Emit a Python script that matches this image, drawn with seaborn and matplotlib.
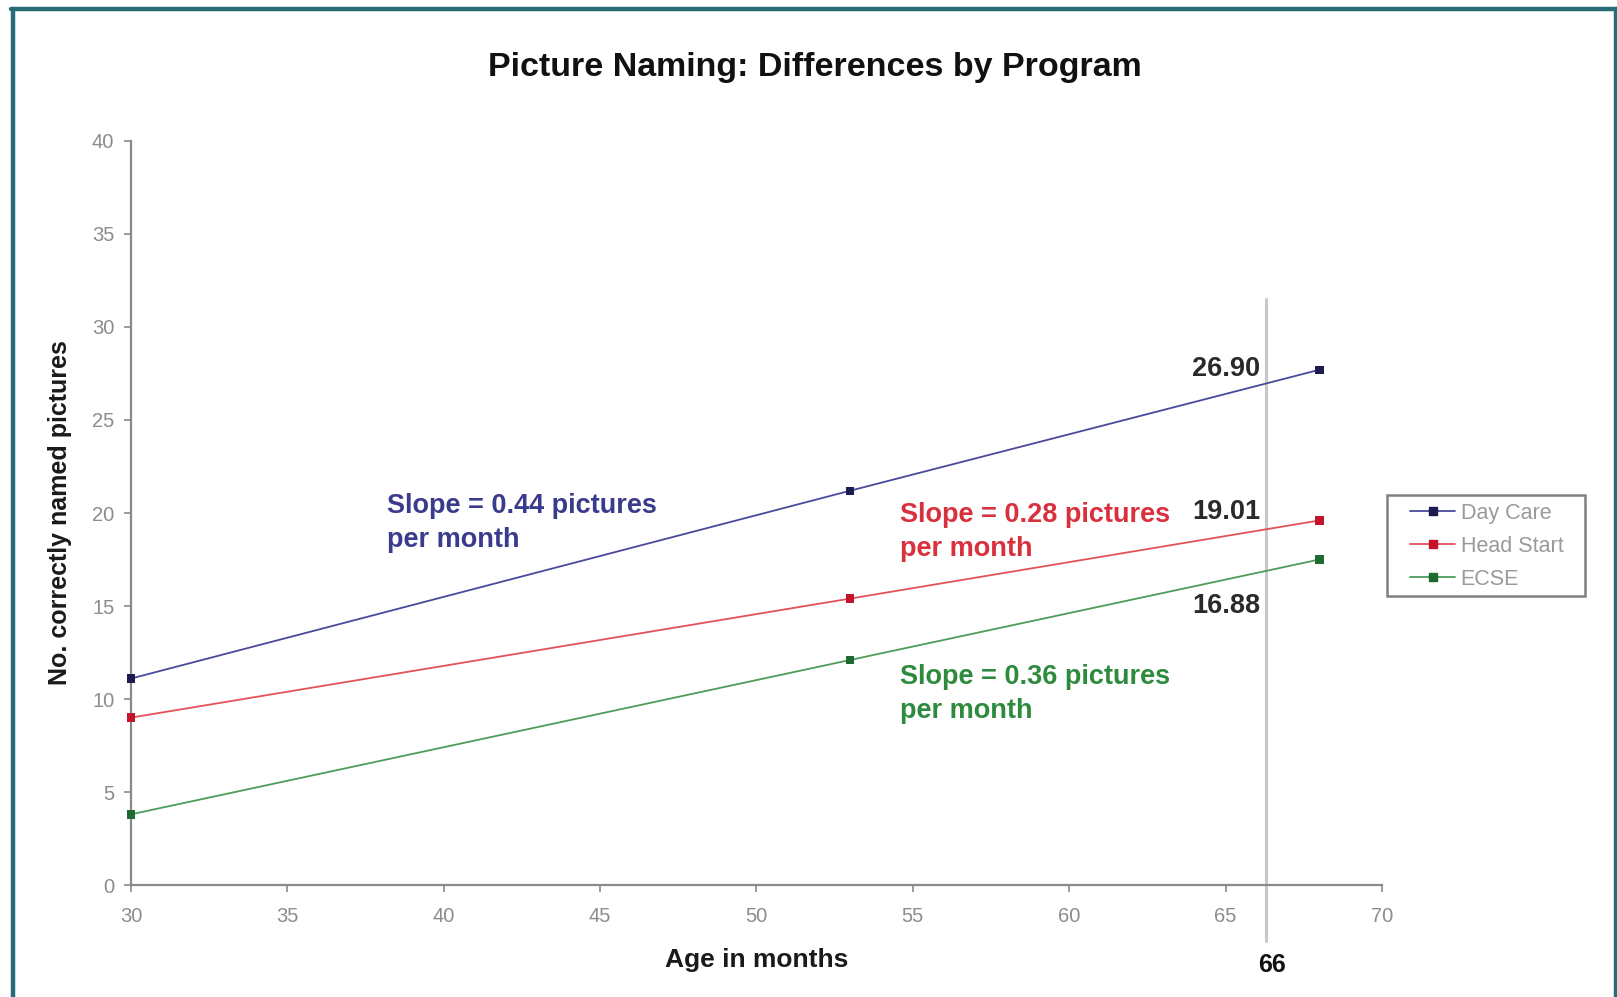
import matplotlib
matplotlib.use("Agg")
import matplotlib.pyplot as plt
from matplotlib.lines import Line2D
from matplotlib.patches import Rectangle
import seaborn as sns
import pandas as pd

# Data
ages = [30, 53, 68]
day_care = [11.1, 21.2, 27.7]
head_start = [9.0, 15.4, 19.6]
ecse = [3.8, 12.1, 17.5]
programs = ['Day Care', 'Head Start', 'ECSE']

cutoff_age = 66.3
cutoff_label = '66'
value_labels = ['26.90', '19.01', '16.88']
value_label_y = [27.75, 20.05, 15.0]
slope_texts = ['Slope = 0.44 pictures\nper month',
               'Slope = 0.28 pictures\nper month',
               'Slope = 0.36 pictures\nper month']

line_colors = ['#4a4a9c', '#e4505c', '#4c9c5c']
marker_colors = ['#1c1c50', '#c4142c', '#1e6a30']
text_colors = ['#3b3b8e', '#d8303c', '#2e8b3e']

rows = []
for name, vals in zip(programs, [day_care, head_start, ecse]):
    for a, v in zip(ages, vals):
        rows.append({'Age': a, 'Score': v, 'Program': name})
df = pd.DataFrame(rows)

sns.set_style('white')
plt.rcParams['font.family'] = ['Liberation Sans', 'DejaVu Sans']

fig = plt.figure(figsize=(16.17, 9.97), dpi=100)
ax = fig.add_axes([0.081, 0.1123, 0.7736, 0.7463])

# cutoff line at 66 months
ax.plot([cutoff_age, cutoff_age], [-3.0, 31.5], color='#c8c8c8', lw=2.2,
        clip_on=False, zorder=1)

sns.lineplot(data=df, x='Age', y='Score', hue='Program', hue_order=programs,
             palette=line_colors, linewidth=1.3, legend=False, ax=ax, zorder=2)
sns.scatterplot(data=df, x='Age', y='Score', hue='Program', hue_order=programs,
                palette=marker_colors, marker='s', s=36, edgecolor='none',
                legend=False, ax=ax, zorder=3, clip_on=False)

ax.set_xlim(30, 70)
ax.set_ylim(0, 40)
ax.set_xticks(range(30, 71, 5))
ax.set_yticks(range(0, 41, 5))
for s in ['top', 'right']:
    ax.spines[s].set_visible(False)
for s in ['left', 'bottom']:
    ax.spines[s].set_color('#8a8a8a')
    ax.spines[s].set_linewidth(1.6)
ax.tick_params(axis='both', direction='out', length=5, width=1.2, color='#8a8a8a',
               labelcolor='#8c8c8c', labelsize=14.5, pad=7, left=True, bottom=True)
ax.tick_params(axis='x', pad=11)

ax.set_xlabel('Age in months', fontsize=19, fontweight='bold', color='#1a1a1a')
ax.xaxis.set_label_coords(0.5, -0.085)
ax.set_ylabel('No. correctly named pictures', fontsize=18, fontweight='bold', color='#1a1a1a')
ax.yaxis.set_label_coords(-0.047, 0.5)

# slope annotations
slope_pos = [(38.2, 21.1), (54.6, 20.6), (54.6, 11.9)]
for txt, (x, y), c in zip(slope_texts, slope_pos, text_colors):
    ax.text(x, y, txt, color=c, fontsize=19.5, fontweight='bold',
            ha='left', va='top', linespacing=1.4)

for lbl, y in zip(value_labels, value_label_y):
    ax.text(66.1, y, lbl, color='#2a2a2a', fontsize=19.5, fontweight='bold',
            ha='right', va='center')

ax.text(cutoff_age + 0.2, -4.3, cutoff_label, color='#111111', fontsize=18,
        fontweight='bold', ha='center', va='center', clip_on=False)

fig.text(0.504, 0.932, 'Picture Naming: Differences by Program', fontsize=24.5,
         fontweight='bold', ha='center', va='center', color='#111111')

# legend box drawn separately so its padding matches the original
fig.add_artist(Rectangle((0.8578, 0.4022), 0.1224, 0.1013, transform=fig.transFigure,
                         facecolor='white', edgecolor='#808080', lw=1.8, zorder=4))
handles = [Line2D([0], [0], color=lc, lw=1.3, marker='s', markersize=6,
                  markerfacecolor=mc, markeredgecolor=mc)
           for lc, mc in zip(line_colors, marker_colors)]
leg = fig.legend(handles, programs, loc='upper left', bbox_to_anchor=(0.872, 0.4955),
                 frameon=False, fontsize=15.5, handlelength=2.1, labelspacing=0.55,
                 borderpad=0, handletextpad=0.25, borderaxespad=0)
leg.set_zorder(5)
for t in leg.get_texts():
    t.set_color('#9a9a9a')

# teal frame (left, top, right)
frame_col = '#276b77'
fig.add_artist(Line2D([13 / 1617, 13 / 1617], [0, 1 - 9 / 997], color=frame_col, lw=3.2,
                      transform=fig.transFigure))
fig.add_artist(Line2D([11 / 1617, 1], [1 - 9 / 997, 1 - 9 / 997], color=frame_col, lw=3.2,
                      transform=fig.transFigure))
fig.add_artist(Line2D([1615.5 / 1617, 1615.5 / 1617], [0, 1 - 9 / 997], color=frame_col, lw=3.2,
                      transform=fig.transFigure))

fig.savefig('out.png', dpi=100)
